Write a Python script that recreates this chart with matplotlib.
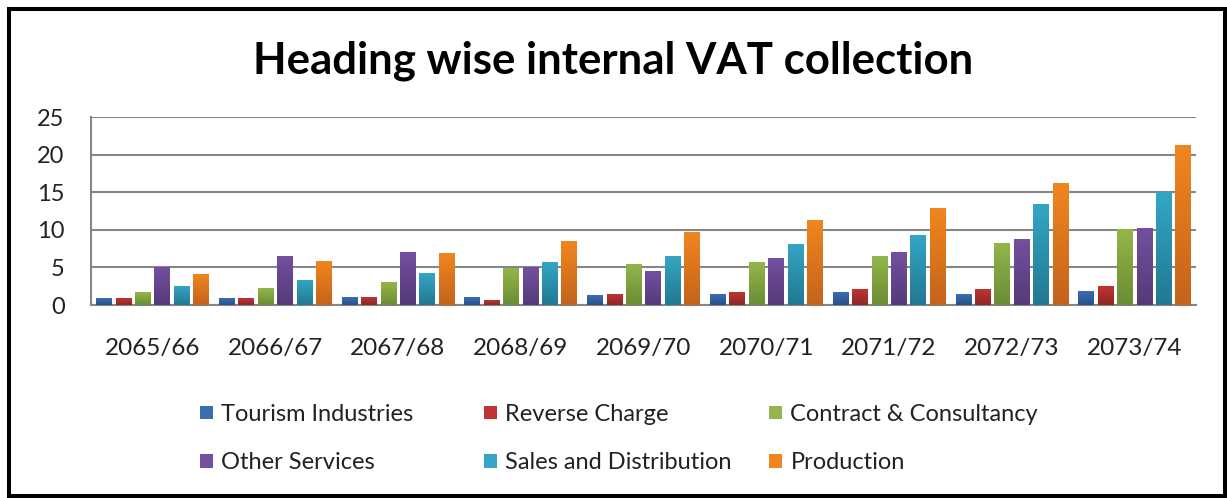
import numpy as np
import matplotlib
matplotlib.use("Agg")
import matplotlib.pyplot as plt
from matplotlib.colors import LinearSegmentedColormap
from matplotlib.patches import Rectangle

plt.rcParams["font.family"] = ["Lato", "DejaVu Sans"]

years = ["2065/66", "2066/67", "2067/68", "2068/69", "2069/70",
         "2070/71", "2071/72", "2072/73", "2073/74"]

tourism = [0.9, 0.9, 1.0, 1.0, 1.2, 1.4, 1.7, 1.4, 1.8]
reverse_charge = [0.9, 0.9, 1.0, 0.6, 1.4, 1.6, 2.1, 2.1, 2.5]
contract = [1.6, 2.2, 3.0, 4.8, 5.4, 5.7, 6.5, 8.2, 10.0]
other_services = [5.0, 6.5, 7.0, 5.0, 4.4, 6.2, 7.0, 8.7, 10.2]
sales_dist = [2.4, 3.2, 4.2, 5.6, 6.4, 8.0, 9.3, 13.3, 14.9]
production = [4.1, 5.8, 6.8, 8.4, 9.7, 11.3, 12.8, 16.2, 21.2]

series = [
    ("Tourism Industries", tourism, "#3B6DB3", "#27508A"),
    ("Reverse Charge", reverse_charge, "#BE3533", "#8F2626"),
    ("Contract & Consultancy", contract, "#93B64A", "#6B8C34"),
    ("Other Services", other_services, "#7350A0", "#553A78"),
    ("Sales and Distribution", sales_dist, "#33A6C4", "#227892"),
    ("Production", production, "#F0861F", "#C4631B"),
]

W, H = 1227, 498
fig = plt.figure(figsize=(W / 100, H / 100), dpi=100)
ax = fig.add_axes([91 / W, 1 - 305 / H, (1196 - 91) / W, (305 - 117) / H])

x = np.arange(len(years))
step, width = 0.158, 0.126
grad = np.linspace(0, 1, 64).reshape(-1, 1)
handles = []
for i, (name, vals, top, bottom) in enumerate(series):
    bars = ax.bar(x + (i - 2.5) * step, vals, width, color=top, label=name, zorder=2)
    cmap = LinearSegmentedColormap.from_list(name, [bottom, top])
    for b in bars:
        x0, y0 = b.get_xy()
        ax.imshow(grad, extent=[x0, x0 + b.get_width(), y0, y0 + b.get_height()],
                  cmap=cmap, aspect="auto", origin="lower", zorder=3)
    handles.append(Rectangle((0, 0), 1, 1, facecolor=top))

ax.set_xlim(-0.5, len(years) - 0.5)
ax.set_ylim(0, 25)
ax.set_yticks(range(0, 26, 5))
ax.set_xticks(x)
ax.set_xticklabels(years)
ax.yaxis.grid(True, color="#868686", linewidth=1.5, zorder=0)
ax.set_axisbelow(True)
for s in ["top", "right"]:
    ax.spines[s].set_visible(False)
for s in ["left", "bottom"]:
    ax.spines[s].set_color("#868686")
    ax.spines[s].set_linewidth(1.5)
ax.tick_params(axis="y", length=0, pad=19, labelsize=17, labelcolor="#222222")
ax.tick_params(axis="x", length=0, pad=24, labelsize=17.5, labelcolor="#222222")

fig.text(0.5, 1 - 73 / H, "Heading wise internal VAT collection",
         ha="center", va="baseline", fontsize=31.5, fontweight="bold")

# legend: three columns of two entries, row-major like the original
col_x = [200, 484, 769]
for c in range(3):
    idx = [c, c + 3]
    fig.legend([handles[k] for k in idx], [series[k][0] for k in idx],
               loc="upper left", bbox_to_anchor=(col_x[c] / W, 1 - 404 / H),
               frameon=False, fontsize=17, borderpad=0, borderaxespad=0,
               handlelength=0.55, handleheight=0.5, handletextpad=0.36,
               labelspacing=1.15, labelcolor="#222222")

fig.add_artist(Rectangle((9 / W, 1 - 495.5 / H), 1216 / W, 486.5 / H,
                         transform=fig.transFigure, fill=False,
                         edgecolor="black", linewidth=2.9))

fig.savefig("out.png", dpi=100, facecolor="white")
